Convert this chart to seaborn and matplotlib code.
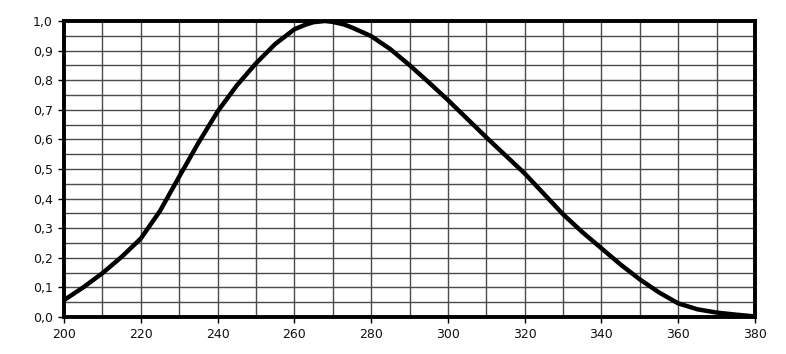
import matplotlib
matplotlib.use("Agg")
import matplotlib.pyplot as plt
import seaborn as sns
import pandas as pd
import numpy as np

wavelength = [200, 205, 210, 215, 220, 225, 230, 235, 240, 245, 250, 255, 260, 263, 265,
              268, 270, 273, 275, 280, 285, 290, 295, 300, 305, 310, 315, 320, 325, 330,
              335, 340, 345, 350, 355, 360, 365, 370, 375, 380]
response = [0.057, 0.100, 0.148, 0.203, 0.265, 0.358, 0.474, 0.588, 0.694, 0.782,
            0.857, 0.922, 0.972, 0.988, 0.996, 1.000, 0.997, 0.988, 0.978, 0.949,
            0.905, 0.851, 0.793, 0.733, 0.670, 0.607, 0.546, 0.485, 0.416, 0.347,
            0.287, 0.232, 0.177, 0.127, 0.083, 0.046, 0.026, 0.015, 0.008, 0.002]

x_ticks = [200, 220, 240, 260, 280, 300, 320, 340, 360, 380]
y_ticks = [0.0, 0.1, 0.2, 0.3, 0.4, 0.5, 0.6, 0.7, 0.8, 0.9, 1.0]
y_labels = ["0,0", "0,1", "0,2", "0,3", "0,4", "0,5", "0,6", "0,7", "0,8", "0,9", "1,0"]

sns.set_style("white")
plt.rcParams['font.family'] = ['DejaVu Sans']

df = pd.DataFrame({"wavelength": wavelength, "response": response})

fig = plt.figure(figsize=(7.86, 3.54), dpi=100)
ax = fig.add_axes([64/786, 37/354, (755-64)/786, (317-21)/354])

# grid
for xv in np.arange(200, 381, 10):
    ax.axvline(xv, color="#4a4a4a", lw=1.0, zorder=1)
for yv in np.arange(0, 1.001, 0.05):
    ax.axhline(yv, color="#4a4a4a", lw=1.0, zorder=1)

sns.lineplot(data=df, x="wavelength", y="response", ax=ax, color="black",
             lw=3.2, zorder=3, solid_capstyle="butt")

ax.set_xlim(200, 380)
ax.set_ylim(0, 1.0)
ax.set_xticks(x_ticks)
ax.set_xticklabels([str(v) for v in x_ticks])
ax.set_yticks(y_ticks)
ax.set_yticklabels(y_labels)
ax.set_xlabel("")
ax.set_ylabel("")
for s in ax.spines.values():
    s.set_linewidth(2.8)
    s.set_color("black")
    s.set_zorder(4)
ax.tick_params(axis="both", which="major", direction="out", length=4, width=1,
               color="black", labelsize=9, labelcolor="#111111", pad=4)
ax.tick_params(axis="x", bottom=True)
ax.tick_params(axis="y", left=True)

fig.savefig("out.png", dpi=100)
